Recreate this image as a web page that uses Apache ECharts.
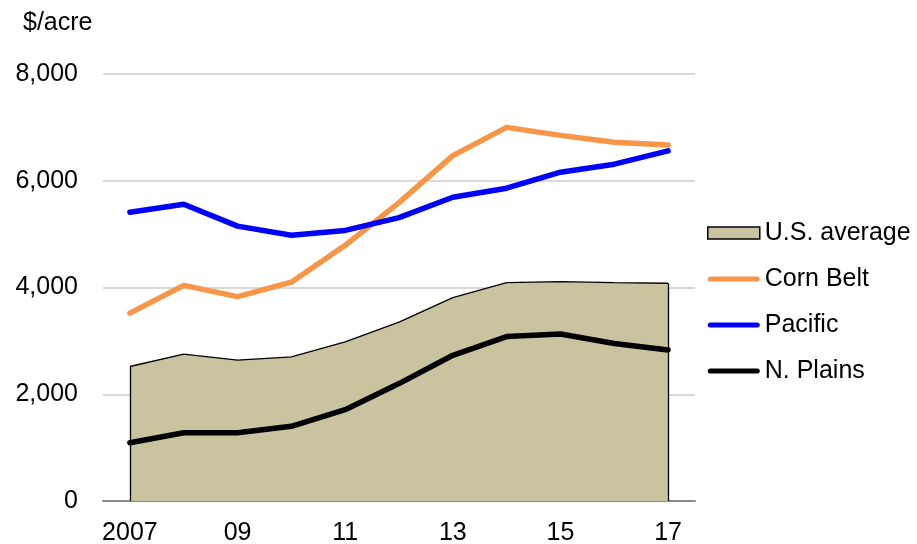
<!DOCTYPE html>
<html>
<head>
<meta charset="utf-8">
<script src="https://cdn.jsdelivr.net/npm/echarts@6/dist/echarts.min.js"></script>
<style>
  html, body { margin: 0; padding: 0; background: #fff; }
  #chart { width: 917px; height: 544px; }
</style>
</head>
<body>
<div id="chart"></div>
<script>
// years on the category axis
const years = ['2007', '08', '09', '10', '11', '12', '13', '14', '15', '16', '17'];
// $/acre
const usAverage = [2520, 2750, 2640, 2700, 2980, 3350, 3810, 4090, 4110, 4090, 4080];
const cornBelt = [3520, 4040, 3830, 4100, 4790, 5590, 6470, 7000, 6850, 6720, 6670];
const pacific = [5410, 5560, 5150, 4980, 5070, 5310, 5690, 5860, 6160, 6310, 6560];
const nPlains = [1090, 1280, 1280, 1400, 1710, 2200, 2730, 3080, 3130, 2950, 2830];

const FONT = 'Liberation Sans, Arial, sans-serif';
const TAN = '#C9C3A0';
// thick line with round ends, used as legend icon for the line series
const LINE_ICON = 'path://M2.5,0 L49.5,0 A2.5,2.5 0 0 1 49.5,5 L2.5,5 A2.5,2.5 0 0 1 2.5,0 Z';

const chart = echarts.init(document.getElementById('chart'));

const option = {
  animation: false,
  textStyle: { fontFamily: FONT, color: '#000' },
  title: {
    text: '$/acre',
    left: 18,
    top: 6,
    textStyle: { fontFamily: FONT, fontSize: 25, fontWeight: 'normal', color: '#000' }
  },
  grid: { left: 103, right: 222, top: 74, bottom: 43, outerBoundsMode: 'none' },
  legend: {
    orient: 'vertical',
    left: 702,
    top: 215,
    itemWidth: 52,
    itemHeight: 12,
    itemGap: 20,
    textStyle: { fontFamily: FONT, fontSize: 25, color: '#000', lineHeight: 26 },
    data: [
      { name: 'U.S. average', icon: 'rect', itemStyle: { color: TAN, borderColor: '#000', borderWidth: 1.5 } },
      { name: 'Corn Belt', icon: LINE_ICON },
      { name: 'Pacific', icon: LINE_ICON },
      { name: 'N. Plains', icon: LINE_ICON }
    ]
  },
  xAxis: {
    type: 'category',
    data: years,
    boundaryGap: true,
    axisLine: { lineStyle: { color: '#8a8a8a', width: 2 } },
    axisTick: { interval: 0, length: 6, lineStyle: { color: '#8a8a8a', width: 2 } },
    axisLabel: { interval: 1, fontSize: 25, color: '#000', margin: 20, fontFamily: FONT }
  },
  yAxis: {
    type: 'value',
    min: 0,
    max: 8000,
    interval: 2000,
    axisLine: { show: false },
    axisTick: { show: false },
    splitLine: { lineStyle: { color: '#d9d9d9', width: 2 } },
    axisLabel: {
      fontSize: 25,
      color: '#000',
      margin: 25,
      fontFamily: FONT,
      formatter: v => v.toLocaleString('en-US')
    }
  },
  series: [
    {
      name: 'U.S. average',
      type: 'line',
      data: usAverage,
      symbol: 'none',
      z: 1,
      lineStyle: { color: '#000', width: 1.3 },
      itemStyle: { color: '#000' },
      areaStyle: { color: TAN, opacity: 1 },
      markLine: {
        silent: true,
        symbol: 'none',
        label: { show: false },
        lineStyle: { color: '#000', width: 1.3, type: 'solid' },
        data: [
          [{ coord: [years[0], 0] }, { coord: [years[0], usAverage[0]] }],
          [{ coord: [years[years.length - 1], 0] }, { coord: [years[years.length - 1], usAverage[usAverage.length - 1]] }]
        ]
      }
    },
    {
      name: 'Corn Belt',
      type: 'line',
      data: cornBelt,
      symbol: 'none',
      z: 3,
      lineStyle: { color: '#F79646', width: 5.5, cap: 'round', join: 'round' },
      itemStyle: { color: '#F79646' }
    },
    {
      name: 'Pacific',
      type: 'line',
      data: pacific,
      symbol: 'none',
      z: 4,
      lineStyle: { color: '#0000FF', width: 5.5, cap: 'round', join: 'round' },
      itemStyle: { color: '#0000FF' }
    },
    {
      name: 'N. Plains',
      type: 'line',
      data: nPlains,
      symbol: 'none',
      z: 2,
      lineStyle: { color: '#000', width: 5.5, cap: 'round', join: 'round' },
      itemStyle: { color: '#000' }
    }
  ]
};

chart.setOption(option);
</script>
</body>
</html>
